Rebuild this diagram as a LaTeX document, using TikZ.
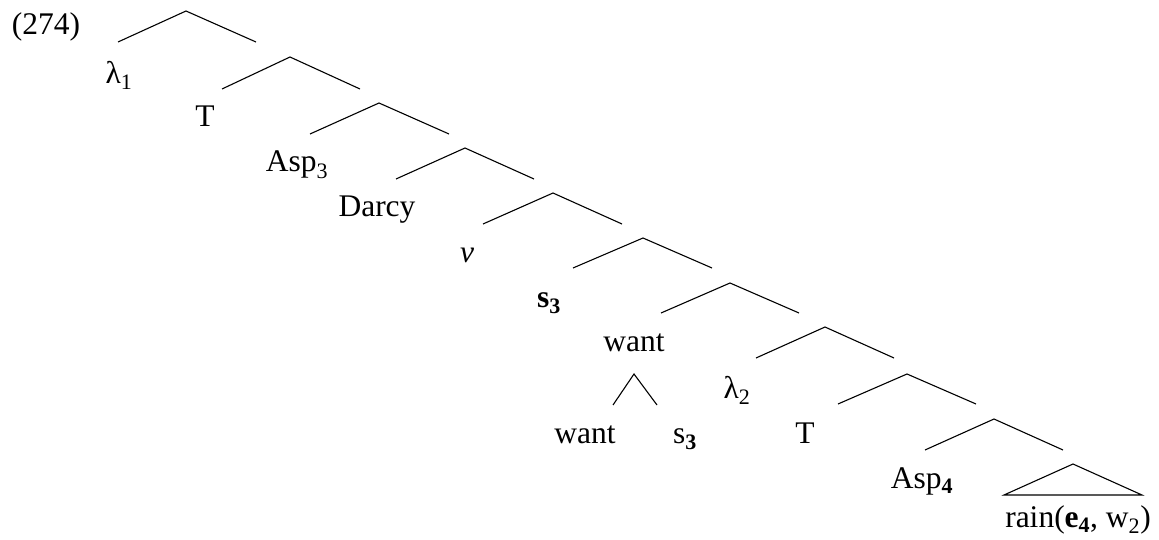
\documentclass[tikz,border=0pt]{standalone}
\usepackage{fontspec}
\setmainfont{Liberation Serif}
\newcommand{\lsub}[1]{\textsubscript{#1}}
\begin{document}
\begin{tikzpicture}[x=1pt,y=-1pt,
  branch/.style={line width=1.1pt},
  lab/.style={anchor=base,inner sep=0pt,font=\fontsize{31.5}{36}\selectfont}]
\useasboundingbox (0,0) rectangle (1159,540);
% coordinates of apexes and branch ends
\foreach \i/\ax/\ay/\lx/\ly/\rx in {1/186/11/118/42/256, 2/290/57/222/89/360, 3/379/103/310/134/449,
  4/465/148/396/179/534, 5/553/193/483/224/622, 6/643/238/573/268/712, 7/730/283/661/313/799,
  8/825/327/756/358/894, 9/907/374/838/404/976, 10/994/419/925/450/1063}{
  \coordinate (a\i) at (\ax,\ay);
  \coordinate (l\i) at (\lx,\ly);
  \coordinate (r\i) at (\rx,\ly);
  \draw[branch] (l\i) -- (a\i) -- (r\i);
}
\coordinate (ta) at (1073,464);
\coordinate (tl) at (1004,495);
\coordinate (tr) at (1142,495);
\draw[branch] (tl) -- (ta) -- (tr) -- cycle;
\coordinate (wa) at (634,374);
\coordinate (wl) at (613,405);
\coordinate (wr) at (657,405);
\draw[branch] (wl) -- (wa) -- (wr);
% labels
\node[lab] (ex) at (46,35) {(274)};
\node[lab] (lam1) at (119,84) {λ\lsub{1}};
\node[lab] (t1) at (205,127) {T};
\node[lab] (asp3) at (297,172) {Asp\lsub{3}};
\node[lab] (darcy) at (377,217) {Darcy};
\node[lab] (v) at (467,262) {\itshape v};
\node[lab] (s3) at (549,307) {\bfseries s\lsub{3}};
\node[lab] (want) at (634,351) {want};
\node[lab] (lam2) at (737,398) {λ\lsub{2}};
\node[lab] (want2) at (585,443) {want};
\node[lab] (s3b) at (685,443) {s\lsub{\bfseries 3}};
\node[lab] (t2) at (805,443) {T};
\node[lab] (asp4) at (922,488) {Asp\lsub{\bfseries 4}};
\node[lab] (rain) at (1078,527) {rain(\textbf{e\lsub{4}}, w\lsub{2})};
\end{tikzpicture}
\end{document}
